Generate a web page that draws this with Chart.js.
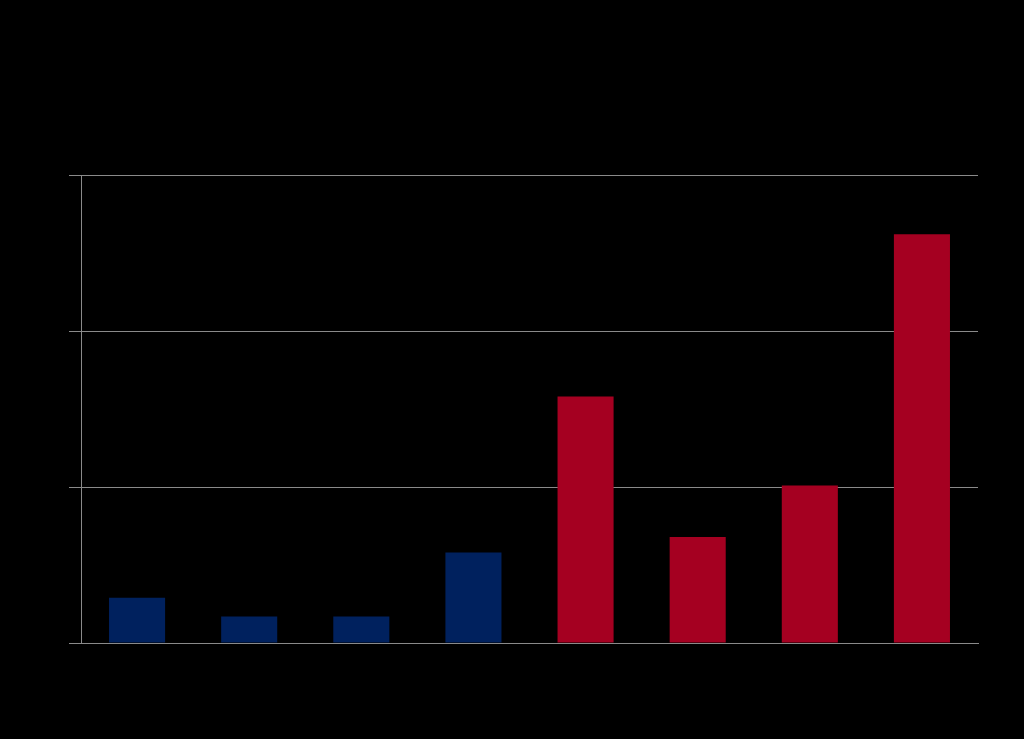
<!DOCTYPE html>
<html>
<head>
<meta charset="utf-8">
<script src="https://cdn.jsdelivr.net/npm/chart.js@4/dist/chart.umd.min.js"></script>
<style>
  html, body { margin: 0; padding: 0; background: #000; }
  canvas { display: block; }
</style>
</head>
<body>
<canvas id="barChart" width="1024" height="739"></canvas>
<script>
// Chart data (labels are drawn in black on black in the original)
const categories = ['1', '2', '3', '4', '5', '6', '7', '8'];
const values = [2.9, 1.7, 1.7, 5.8, 15.8, 6.8, 10.1, 26.2];
const barColors = ['#00215e', '#00215e', '#00215e', '#00215e', '#a50021', '#a50021', '#a50021', '#a50021'];
const yTicks = [0, 10, 20, 30];

const gridColor = '#8a8a8a';

document.addEventListener('DOMContentLoaded', function() {
  const ctx = document.getElementById('barChart');
  new Chart(ctx.getContext('2d'), {
    type: 'bar',
    data: {
      labels: categories,
      datasets: [{
        data: values,
        backgroundColor: barColors,
        borderWidth: 0,
        categoryPercentage: 1.0,
        barPercentage: 0.5
      }]
    },
    options: {
      responsive: false,
      animation: false,
      layout: {
        padding: { top: 175, left: 0, right: 46, bottom: 0 }
      },
      plugins: {
        legend: { display: false },
        tooltip: { enabled: false }
      },
      scales: {
        x: {
          grid: { display: false },
          border: { color: gridColor, width: 1 },
          ticks: { color: '#000' },
          afterFit: scale => { scale.height = 96; }
        },
        y: {
          min: yTicks[0],
          max: yTicks[yTicks.length - 1],
          ticks: {
            stepSize: yTicks[1] - yTicks[0],
            color: '#000'
          },
          grid: {
            color: gridColor,
            lineWidth: 1,
            tickLength: 12
          },
          border: { color: gridColor, width: 1 },
          afterFit: scale => { scale.width = 81; }
        }
      }
    }
  });
});
</script>
</body>
</html>
